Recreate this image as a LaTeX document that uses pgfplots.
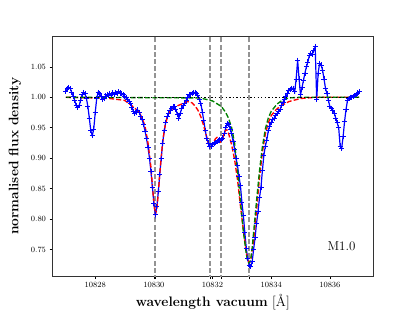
\documentclass[border=0pt]{standalone}
\usepackage{pgfplots}
\pgfplotsset{compat=1.18}
\usepackage{pgfplotstable}
\definecolor{mplgreen}{rgb}{0,0.5,0}
\definecolor{vgray}{rgb}{0.5,0.5,0.5}
\pgfplotstableread{
x y
10827.00 1.010
10827.05 1.014
10827.10 1.016
10827.15 1.014
10827.20 1.008
10827.25 1.002
10827.30 0.995
10827.35 0.987
10827.40 0.983
10827.45 0.986
10827.50 0.995
10827.55 1.004
10827.60 1.008
10827.65 1.006
10827.70 0.998
10827.75 0.985
10827.80 0.965
10827.85 0.945
10827.90 0.937
10827.95 0.948
10828.00 0.975
10828.05 0.998
10828.10 1.008
10828.15 1.006
10828.20 1.001
10828.25 0.997
10828.30 0.998
10828.35 1.002
10828.40 1.004
10828.45 1.003
10828.50 1.006
10828.55 1.004
10828.60 1.007
10828.65 1.005
10828.70 1.008
10828.75 1.006
10828.80 1.009
10828.85 1.007
10828.90 1.006
10828.95 1.004
10829.00 1.002
10829.05 1.000
10829.10 0.996
10829.15 0.993
10829.20 0.990
10829.25 0.984
10829.30 0.977
10829.35 0.973
10829.40 0.976
10829.45 0.979
10829.50 0.975
10829.55 0.969
10829.60 0.963
10829.65 0.955
10829.70 0.944
10829.75 0.932
10829.80 0.917
10829.85 0.900
10829.90 0.878
10829.95 0.852
10830.00 0.826
10830.05 0.807
10830.10 0.820
10830.15 0.845
10830.20 0.873
10830.25 0.900
10830.30 0.925
10830.35 0.945
10830.40 0.958
10830.45 0.968
10830.50 0.974
10830.55 0.979
10830.60 0.982
10830.65 0.985
10830.70 0.985
10830.75 0.980
10830.80 0.972
10830.85 0.966
10830.90 0.974
10830.95 0.982
10831.00 0.986
10831.05 0.990
10831.10 0.995
10831.15 1.000
10831.20 1.004
10831.25 1.005
10831.30 1.006
10831.35 1.008
10831.40 1.008
10831.45 1.006
10831.50 1.003
10831.55 0.997
10831.60 0.990
10831.65 0.976
10831.70 0.962
10831.75 0.946
10831.80 0.933
10831.85 0.925
10831.90 0.919
10831.95 0.920
10832.00 0.922
10832.05 0.924
10832.10 0.926
10832.15 0.927
10832.20 0.929
10832.25 0.930
10832.30 0.931
10832.35 0.933
10832.40 0.940
10832.45 0.950
10832.50 0.957
10832.55 0.955
10832.60 0.948
10832.65 0.940
10832.70 0.928
10832.75 0.915
10832.80 0.900
10832.85 0.888
10832.90 0.870
10832.95 0.855
10833.00 0.828
10833.05 0.806
10833.10 0.778
10833.15 0.752
10833.20 0.735
10833.25 0.724
10833.30 0.722
10833.35 0.730
10833.40 0.750
10833.45 0.770
10833.50 0.793
10833.55 0.812
10833.60 0.835
10833.65 0.852
10833.70 0.880
10833.75 0.905
10833.80 0.920
10833.85 0.930
10833.90 0.945
10833.95 0.953
10834.00 0.959
10834.05 0.963
10834.10 0.966
10834.15 0.970
10834.20 0.973
10834.25 0.977
10834.30 0.980
10834.35 0.986
10834.40 0.992
10834.45 0.997
10834.50 1.001
10834.55 1.006
10834.60 1.011
10834.65 1.013
10834.70 1.015
10834.75 1.015
10834.80 1.009
10834.85 1.030
10834.90 1.061
10834.95 1.030
10835.00 1.004
10835.05 1.016
10835.10 1.028
10835.15 1.040
10835.20 1.050
10835.25 1.058
10835.30 1.069
10835.35 1.072
10835.40 1.071
10835.45 1.077
10835.50 1.083
10835.55 0.996
10835.60 1.040
10835.65 1.056
10835.70 1.053
10835.75 1.045
10835.80 1.030
10835.85 1.015
10835.90 1.006
10835.95 0.995
10836.00 0.985
10836.05 0.982
10836.10 0.979
10836.15 0.974
10836.20 0.966
10836.25 0.958
10836.30 0.950
10836.35 0.920
10836.40 0.916
10836.45 0.935
10836.50 0.960
10836.55 0.980
10836.60 0.995
10836.65 0.998
10836.70 1.000
10836.75 1.000
10836.80 1.001
10836.85 1.003
10836.90 1.004
10836.95 1.007
10837.00 1.009
}\obsdata
\pgfplotstableread{
x y
10827.00 1.000
10828.00 0.999
10828.50 0.998
10829.00 0.995
10829.20 0.988
10829.40 0.980
10829.50 0.975
10829.60 0.966
10829.70 0.952
10829.80 0.925
10829.90 0.885
10829.95 0.855
10830.00 0.826
10830.05 0.808
10830.10 0.816
10830.15 0.842
10830.20 0.875
10830.30 0.928
10830.40 0.958
10830.50 0.973
10830.60 0.980
10830.70 0.983
10830.80 0.986
10831.00 0.990
10831.15 0.993
10831.30 0.991
10831.40 0.986
10831.50 0.979
10831.60 0.968
10831.70 0.953
10831.80 0.935
10831.90 0.919
10831.95 0.918
10832.00 0.922
10832.10 0.932
10832.15 0.934
10832.20 0.930
10832.25 0.926
10832.30 0.928
10832.35 0.935
10832.45 0.947
10832.50 0.946
10832.55 0.940
10832.65 0.922
10832.75 0.898
10832.85 0.865
10832.95 0.822
10833.05 0.782
10833.15 0.745
10833.20 0.733
10833.25 0.728
10833.30 0.732
10833.40 0.765
10833.50 0.815
10833.60 0.868
10833.70 0.910
10833.80 0.940
10833.90 0.958
10834.00 0.970
10834.15 0.979
10834.30 0.985
10834.60 0.993
10835.00 0.998
10835.50 1.000
10837.00 1.000
}\redmodel
\pgfplotstableread{
x y
10827.00 1.000
10831.50 0.999
10831.75 0.997
10832.00 0.994
10832.20 0.988
10832.30 0.985
10832.45 0.975
10832.55 0.965
10832.65 0.950
10832.75 0.925
10832.85 0.880
10832.95 0.830
10833.05 0.780
10833.15 0.743
10833.20 0.731
10833.25 0.727
10833.30 0.733
10833.35 0.752
10833.40 0.778
10833.50 0.830
10833.60 0.879
10833.70 0.919
10833.80 0.948
10833.90 0.966
10834.00 0.977
10834.20 0.989
10834.40 0.996
10834.60 0.999
10835.00 1.000
10837.00 1.000
}\greenmodel
\begin{document}
\begin{tikzpicture}
\begin{axis}[
  scale only axis,
  width=320.3bp, height=240bp,
  xmin=10826.55, xmax=10837.47,
  ymin=0.7065, ymax=1.1007,
  xtick={10828,10830,10832,10834,10836},
  ytick={0.75,0.80,0.85,0.90,0.95,1.00,1.05},
  extra x ticks={10830.04,10831.91,10832.29,10833.24},
  extra x tick labels={},
  scaled x ticks=false,
  scaled y ticks=false,
  tick align=outside,
  xtick pos=left, ytick pos=left,
  major tick length=3.2bp,
  tick style={black, line width=0.6bp},
  axis line style={black!80, line width=0.8bp},
  xticklabel style={/pgf/number format/.cd, fixed, precision=0, 1000 sep={}},
  yticklabel style={/pgf/number format/.cd, fixed, fixed zerofill, precision=2},
  tick label style={font=\fontsize{8.3}{10}\selectfont},
  xlabel={\textbf{wavelength vacuum} [\AA]},
  ylabel={\textbf{normalised flux density}},
  label style={font=\fontsize{13.8}{16}\selectfont},
  xlabel style={at={(axis description cs:0.5,-0.108)}, anchor=center},
  ylabel style={at={(axis description cs:-0.118,0.5)}, anchor=center},
  clip=true,
]
\addplot[vgray!85, line width=1.2bp, dash pattern=on 5bp off 2.2bp] coordinates {(10830.04,0.70) (10830.04,1.11)};
\addplot[vgray!85, line width=1.2bp, dash pattern=on 5bp off 2.2bp] coordinates {(10831.91,0.70) (10831.91,1.11)};
\addplot[vgray!85, line width=1.2bp, dash pattern=on 5bp off 2.2bp] coordinates {(10832.29,0.70) (10832.29,1.11)};
\addplot[vgray!85, line width=1.2bp, dash pattern=on 5bp off 2.2bp] coordinates {(10833.24,0.70) (10833.24,1.11)};
\addplot[blue, line width=1.2bp, mark=+, mark size=2.6bp, mark options={line width=0.8bp}] table {\obsdata};
\addplot[red, line width=1.35bp, dash pattern=on 5bp off 2.2bp] table {\redmodel};
\addplot[mplgreen, line width=1.35bp, dash pattern=on 5bp off 2.2bp] table {\greenmodel};
\addplot[black, line width=1.35bp, dash pattern=on 1.35bp off 2.2bp] coordinates {(10827.00,1.0) (10837.00,1.0)};
\node[anchor=base east, font=\fontsize{13}{15}\selectfont] at (rel axis cs:0.956,0.108) {M1.0};
\coordinate (ll) at (rel axis cs:0,0);
\coordinate (ur) at (rel axis cs:1,1);
\end{axis}
\pgfresetboundingbox
\path ([xshift=-52.7bp,yshift=-35bp]ll) rectangle ([xshift=42bp,yshift=36bp]ur);
\end{tikzpicture}
\end{document}
